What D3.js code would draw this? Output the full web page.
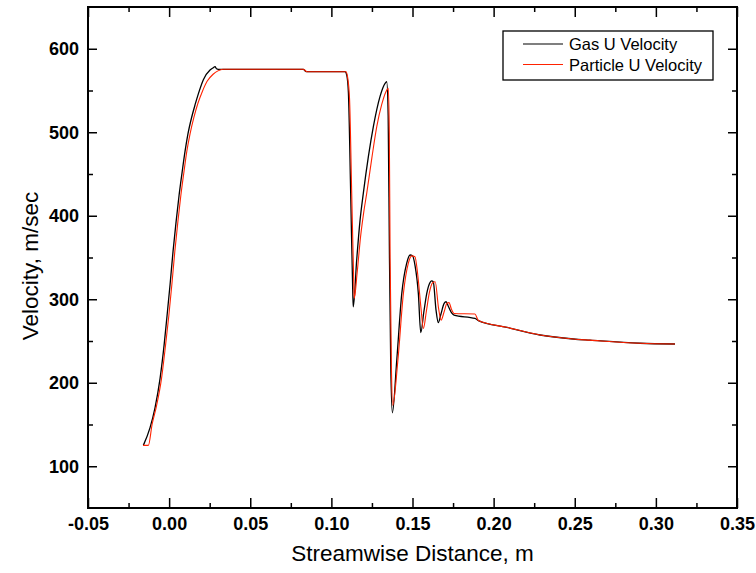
<!DOCTYPE html>
<html>
<head>
<meta charset="utf-8">
<script src="https://cdn.jsdelivr.net/npm/d3@7"></script>
<style>
  body { margin: 0; background: #fff; }
  svg { display: block; }
  .tick text { font-family: "Liberation Sans", Arial, sans-serif; font-weight: bold; font-size: 18px; fill: #000; }
  .tick line { stroke: #000; stroke-width: 1.5; }
  .title { font-family: "Liberation Sans", Arial, sans-serif; font-size: 22.5px; fill: #000; }
  .legend text { font-family: "Liberation Sans", Arial, sans-serif; font-size: 16.5px; fill: #000; }
</style>
</head>
<body>
<div id="chart"></div>
<script>
// Gas and particle streamwise velocity
const gasX = [-0.0159, -0.0118, -0.0087, -0.0056, -0.0031, -0.0013, 0.0006, 0.0024, 0.0043, 0.0061,
  0.0080, 0.0098, 0.0116, 0.0139, 0.0160, 0.0180, 0.0211, 0.0252, 0.0270, 0.0283,
  0.0292, 0.0303, 0.0827, 0.0845,
  0.1084, 0.1095, 0.1105, 0.1119, 0.1132, 0.1135, 0.1156, 0.1177, 0.1197, 0.1259,
  0.1300, 0.1331, 0.1341, 0.1350, 0.1358, 0.1366, 0.1376, 0.1403, 0.1434, 0.1464,
  0.1485, 0.1500, 0.1516, 0.1536, 0.1551, 0.1570, 0.1588, 0.1608, 0.1618, 0.1628,
  0.1645, 0.1659, 0.1675, 0.1695, 0.1707, 0.1720, 0.1740, 0.1756, 0.1885, 0.1906,
  0.2081, 0.2286, 0.2491, 0.2594, 0.2902, 0.3118];
const gasU = [125, 146, 170, 205, 245, 280, 318, 357, 393, 424,
  452, 477, 498, 518, 533, 546, 563, 574.5, 577, 578.5,
  576, 575.4, 575.4, 572.5,
  572.5, 568, 547, 427, 307, 291, 347, 395, 427, 507,
  543, 558.6, 560.5, 520, 350, 220, 164, 227, 307, 343,
  353, 352, 340, 307, 260, 285, 307, 320, 322, 321,
  287, 272, 282, 295, 297, 292, 284, 281, 277, 274.5,
  266.4, 257.2, 252.4, 251, 247.3, 246.4];

const partX = [-0.0161, -0.0128, -0.0105, -0.0078, -0.0047, -0.0022, -0.0002, 0.0017, 0.0035, 0.0054,
  0.0072, 0.0091, 0.0109, 0.0129, 0.0153, 0.0178, 0.0203, 0.0234, 0.0271, 0.0301,
  0.0332, 0.0827, 0.0850, 0.1090, 0.1100,
  0.1112, 0.1125, 0.1138, 0.1141, 0.1158, 0.1180, 0.1200, 0.1218, 0.1250, 0.1280,
  0.1310, 0.1335, 0.1351,
  0.1357, 0.1362, 0.1370, 0.1378, 0.1410, 0.1444, 0.1474, 0.1495, 0.1515, 0.1532,
  0.1552, 0.1567, 0.1585, 0.1603, 0.1625, 0.1640, 0.1660, 0.1676, 0.1695, 0.1712,
  0.1725, 0.1740, 0.1756, 0.1885, 0.1906, 0.2081, 0.2286, 0.2491, 0.2594, 0.2902,
  0.3118];
const partU = [125, 125, 150, 172, 205, 245, 280, 318, 357, 393,
  424, 452, 477, 498, 518, 535, 548, 561, 569.5, 573.5,
  575.4, 575.4, 572.5, 572.5, 566,
  540, 430, 320, 301, 330, 375, 405, 427, 470, 507,
  533, 548, 552.6,
  500, 350, 220, 173, 227, 307, 343, 352, 351, 330,
  290, 265, 285, 307, 320, 321, 290, 275, 285, 295,
  296, 288, 283, 282.3, 274.5, 266.4, 257.2, 252.4, 251, 247.3,
  246.4];

const xTicks = [-0.05, 0.00, 0.05, 0.10, 0.15, 0.20, 0.25, 0.30, 0.35];
const xMinor = [-0.025, 0.025, 0.075, 0.125, 0.175, 0.225, 0.275, 0.325];
const yTicks = [100, 200, 300, 400, 500, 600];
const yMinor = [150, 250, 350, 450, 550];

const seriesNames = ["Gas U Velocity", "Particle U Velocity"];
const seriesColors = ["#000000", "#ff2200"];

const width = 756, height = 573;
const plotLeft = 88, plotRight = 737, plotTop = 7, plotBottom = 508;

const svg = d3.select('#chart').append('svg')
    .attr('width', width)
    .attr('height', height);

const x = d3.scaleLinear().domain([-0.05, 0.35]).range([plotLeft, plotRight]);
const y = d3.scaleLinear().domain([50, 650]).range([plotBottom, plotTop]);

// axes with inward ticks, mirrored on top and right
function addAxis(axis, transform, labels) {
    const g = svg.append('g').attr('transform', transform).call(axis);
    g.select('.domain').remove();
    if (!labels) g.selectAll('text').remove();
    return g;
}

const fmtX = d => d3.format('.2f')(d).replace('\u2212', '-');

addAxis(d3.axisBottom(x).tickValues(xTicks).tickSize(-10).tickPadding(9)
    .tickFormat(fmtX), `translate(0,${plotBottom})`, true);
addAxis(d3.axisBottom(x).tickValues(xMinor).tickSize(-5), `translate(0,${plotBottom})`, false);
addAxis(d3.axisTop(x).tickValues(xTicks).tickSize(-10), `translate(0,${plotTop})`, false);
addAxis(d3.axisTop(x).tickValues(xMinor).tickSize(-5), `translate(0,${plotTop})`, false);

addAxis(d3.axisLeft(y).tickValues(yTicks).tickSize(-9).tickPadding(9), `translate(${plotLeft},0)`, true);
addAxis(d3.axisLeft(y).tickValues(yMinor).tickSize(-5), `translate(${plotLeft},0)`, false);
addAxis(d3.axisRight(y).tickValues(yTicks).tickSize(-9), `translate(${plotRight},0)`, false);
addAxis(d3.axisRight(y).tickValues(yMinor).tickSize(-5), `translate(${plotRight},0)`, false);

svg.append('rect')
    .attr('x', plotLeft).attr('y', plotTop)
    .attr('width', plotRight - plotLeft).attr('height', plotBottom - plotTop)
    .attr('fill', 'none').attr('stroke', '#000').attr('stroke-width', 2);

// lines
const line = d3.line()
    .x(d => x(d[0]))
    .y(d => y(d[1]))
    .curve(d3.curveMonotoneX);

const gasData = gasX.map((v, i) => [v, gasU[i]]);
const partData = partX.map((v, i) => [v, partU[i]]);

svg.append('path').datum(gasData)
    .attr('d', line).attr('fill', 'none')
    .attr('stroke', seriesColors[0]).attr('stroke-width', 1.3);
svg.append('path').datum(partData)
    .attr('d', line).attr('fill', 'none')
    .attr('stroke', seriesColors[1]).attr('stroke-width', 1.1);

// axis titles
svg.append('text').attr('class', 'title')
    .attr('x', (plotLeft + plotRight) / 2).attr('y', 561)
    .attr('text-anchor', 'middle')
    .text('Streamwise Distance, m');

svg.append('text').attr('class', 'title')
    .attr('transform', 'translate(38,266) rotate(-90)')
    .attr('text-anchor', 'middle')
    .text('Velocity, m/sec');

// legend
const legend = svg.append('g').attr('class', 'legend');
legend.append('rect')
    .attr('x', 503).attr('y', 31).attr('width', 210).attr('height', 49)
    .attr('fill', '#fff').attr('stroke', '#000').attr('stroke-width', 1.3);

seriesNames.forEach((name, i) => {
    const ly = 44 + i * 20.5;
    legend.append('line')
        .attr('x1', 523).attr('x2', 563).attr('y1', ly).attr('y2', ly)
        .attr('stroke', seriesColors[i]).attr('stroke-width', 1.1);
    legend.append('text')
        .attr('x', 569).attr('y', ly + 6)
        .text(name);
});
</script>
</body>
</html>
